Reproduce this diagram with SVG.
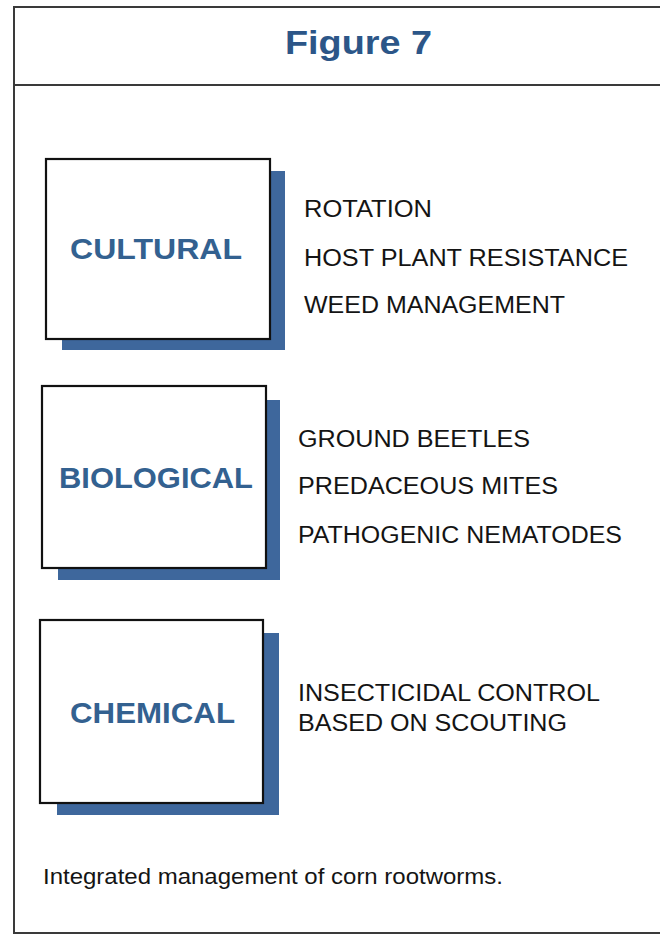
<svg xmlns="http://www.w3.org/2000/svg" width="660" height="935" viewBox="0 0 660 935">
<style>
.frame{fill:none;stroke:#3a3a3a;stroke-width:2}
.box{fill:#ffffff;stroke:#111111;stroke-width:2.2}
.shadow{fill:#3e679c}
.label{font-family:"Liberation Sans",Arial,sans-serif;font-weight:bold;font-size:30px;fill:#336190}
.title{font-family:"Liberation Sans",Arial,sans-serif;font-weight:bold;font-size:34px;fill:#2c5688}
.item{font-family:"Liberation Sans",Arial,sans-serif;font-size:23.5px;fill:#141414}
.caption{font-family:"Liberation Sans",Arial,sans-serif;font-size:22.5px;fill:#141414}
</style>
<rect width="660" height="935" fill="#ffffff"/>
<g id="frame">
<rect class="frame" x="14" y="7" width="670" height="926"/>
<line class="frame" x1="14" y1="85" x2="684" y2="85"/>
<text class="title" x="285" y="54" textLength="147" lengthAdjust="spacingAndGlyphs">Figure 7</text>
</g>
<g id="cultural">
<rect class="shadow" x="62" y="171" width="223" height="179"/>
<rect class="box" x="46" y="159" width="224" height="180"/>
<text class="label" x="70" y="259" textLength="172" lengthAdjust="spacingAndGlyphs">CULTURAL</text>
</g>
<g id="cultural-items">
<text class="item" x="304" y="217" textLength="128" lengthAdjust="spacingAndGlyphs">ROTATION</text>
<text class="item" x="304" y="266" textLength="324" lengthAdjust="spacingAndGlyphs">HOST PLANT RESISTANCE</text>
<text class="item" x="304" y="313" textLength="261" lengthAdjust="spacingAndGlyphs">WEED MANAGEMENT</text>
</g>
<g id="biological">
<rect class="shadow" x="58" y="400" width="222" height="180"/>
<rect class="box" x="42" y="386" width="224" height="182"/>
<text class="label" x="59" y="488" textLength="194" lengthAdjust="spacingAndGlyphs">BIOLOGICAL</text>
</g>
<g id="biological-items">
<text class="item" x="298" y="447" textLength="232" lengthAdjust="spacingAndGlyphs">GROUND BEETLES</text>
<text class="item" x="298" y="494" textLength="260" lengthAdjust="spacingAndGlyphs">PREDACEOUS MITES</text>
<text class="item" x="298" y="543" textLength="324" lengthAdjust="spacingAndGlyphs">PATHOGENIC NEMATODES</text>
</g>
<g id="chemical">
<rect class="shadow" x="57" y="633" width="222" height="182"/>
<rect class="box" x="40" y="620" width="223" height="183"/>
<text class="label" x="70" y="723" textLength="165" lengthAdjust="spacingAndGlyphs">CHEMICAL</text>
</g>
<g id="chemical-items">
<text class="item" x="298" y="701" textLength="302" lengthAdjust="spacingAndGlyphs">INSECTICIDAL CONTROL</text>
<text class="item" x="298" y="731" textLength="269" lengthAdjust="spacingAndGlyphs">BASED ON SCOUTING</text>
</g>
<g id="connectors"></g>
<text class="caption" x="43" y="884" textLength="460" lengthAdjust="spacingAndGlyphs">Integrated management of corn rootworms.</text>
</svg>
